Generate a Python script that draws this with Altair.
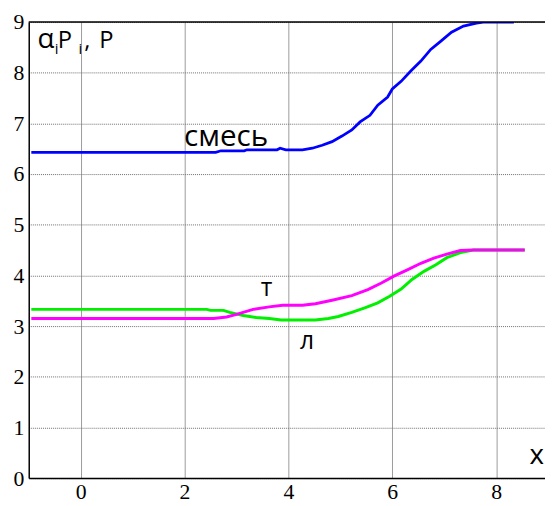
import altair as alt
import pandas as pd

# --- data ---
blue_x = [-0.95, 2.6, 2.7, 3.15, 3.2, 3.78, 3.84, 3.95, 4.27, 4.46, 4.65, 4.84, 5.03, 5.22, 5.38, 5.57,
          5.72, 5.91, 6.0, 6.17, 6.36, 6.55, 6.74, 6.93, 7.14, 7.37, 7.62, 7.75, 8.34]
blue_y = [6.43, 6.43, 6.46, 6.46, 6.48, 6.48, 6.51, 6.48, 6.48, 6.51, 6.57, 6.64, 6.75, 6.87, 7.03, 7.16,
          7.36, 7.52, 7.68, 7.83, 8.04, 8.23, 8.46, 8.62, 8.80, 8.92, 8.98, 9.0, 9.0]

green_x = [-0.95, 2.43, 2.5, 2.75, 2.87, 3.13, 3.38, 3.63, 3.86, 4.52, 4.77, 4.96, 5.22, 5.47, 5.72,
           5.95, 6.17, 6.38, 6.61, 6.84, 7.05, 7.31, 7.56, 8.55]
green_y = [3.33, 3.33, 3.31, 3.31, 3.27, 3.21, 3.17, 3.15, 3.12, 3.12, 3.15, 3.19, 3.27, 3.36, 3.46,
           3.59, 3.73, 3.92, 4.08, 4.21, 4.35, 4.45, 4.50, 4.50]

magenta_x = [-0.95, 2.56, 2.81, 3.0, 3.32, 3.63, 3.89, 4.27, 4.52, 4.84, 5.22, 5.53, 5.79, 6.04, 6.29,
             6.55, 6.80, 7.05, 7.31, 7.56, 8.55]
magenta_y = [3.15, 3.15, 3.18, 3.23, 3.33, 3.38, 3.41, 3.41, 3.44, 3.51, 3.60, 3.72, 3.85, 3.99, 4.11,
             4.24, 4.34, 4.42, 4.49, 4.50, 4.50]

x_ticks = [0, 2, 4, 6, 8]
y_ticks = [0, 1, 2, 3, 4, 5, 6, 7, 8, 9]

# annotation texts (data coordinates)
ann_text = ["α", "i", "P", "i", ",", "P", "смесь", "т", "л", "x"]
ann_x = [-0.83, -0.50, -0.44, -0.04, 0.07, 0.36, 2.80, 3.58, 4.36, 8.78]
ann_y = [8.494, 8.377, 8.494, 8.377, 8.494, 8.494, 6.546, 3.585, 2.552, 0.273]
ann_size = [28, 15, 24, 15, 24, 24, 30, 25, 25, 28]
ann_align = ["left", "left", "left", "left", "left", "left", "center", "center", "center", "center"]

xdom = [-1, 8.94]
ydom = [0, 9]

xs = alt.Scale(domain=xdom, nice=False, zero=False)
ys = alt.Scale(domain=ydom, nice=False, zero=False)

SERIF = "Liberation Serif, DejaVu Serif"


def line_layer(xv, yv, color, width):
    df = pd.DataFrame({"x": xv, "y": yv})
    return alt.Chart(df).mark_line(color=color, strokeWidth=width, clip=True).encode(
        x=alt.X("x:Q", scale=xs,
                axis=alt.Axis(values=x_ticks, title=None, grid=True, gridColor="#9a9a9a",
                              gridWidth=1, ticks=False, labelPadding=4,
                              labelFont=SERIF, labelFontSize=22, labelColor="black",
                              domainColor="black", domainWidth=1.5)),
        y=alt.Y("y:Q", scale=ys,
                axis=alt.Axis(values=y_ticks, title=None, grid=True, gridColor="#6f6f6f",
                              gridDash=[1, 1], gridWidth=1, ticks=False, labelPadding=5,
                              labelFont=SERIF, labelFontSize=22, labelColor="black",
                              domainColor="black", domainWidth=1.5)),
    )


top_rule = alt.Chart(pd.DataFrame({"y": [ydom[1]]})).mark_rule(color="black", strokeWidth=1.5).encode(
    y=alt.Y("y:Q", scale=ys)
)

ann_df = pd.DataFrame({"t": ann_text, "x": ann_x, "y": ann_y, "s": ann_size, "a": ann_align})
ann_left = alt.Chart(ann_df[ann_df.a == "left"]).mark_text(
    align="left", baseline="alphabetic", font="Open Sans", color="black"
).encode(
    x=alt.X("x:Q", scale=xs), y=alt.Y("y:Q", scale=ys), text="t:N",
    size=alt.Size("s:Q", scale=None, legend=None),
)
ann_center = alt.Chart(ann_df[ann_df.a == "center"]).mark_text(
    align="center", baseline="alphabetic", font="Open Sans", color="black"
).encode(
    x=alt.X("x:Q", scale=xs), y=alt.Y("y:Q", scale=ys), text="t:N",
    size=alt.Size("s:Q", scale=None, legend=None),
)

chart = alt.layer(
    line_layer(blue_x, blue_y, "#0000ff", 2.8),
    top_rule,
    line_layer(green_x, green_y, "#00f000", 3),
    line_layer(magenta_x, magenta_y, "#ff00ff", 3),
    ann_left,
    ann_center,
).properties(
    width=523, height=462,
    padding={"left": 21, "top": 11, "right": 0, "bottom": 25},
    autosize=alt.AutoSizeParams(type="none"),
    background="white",
).configure_view(stroke=None)

chart.save("out.html", embed_options={"renderer": "svg", "actions": False})
